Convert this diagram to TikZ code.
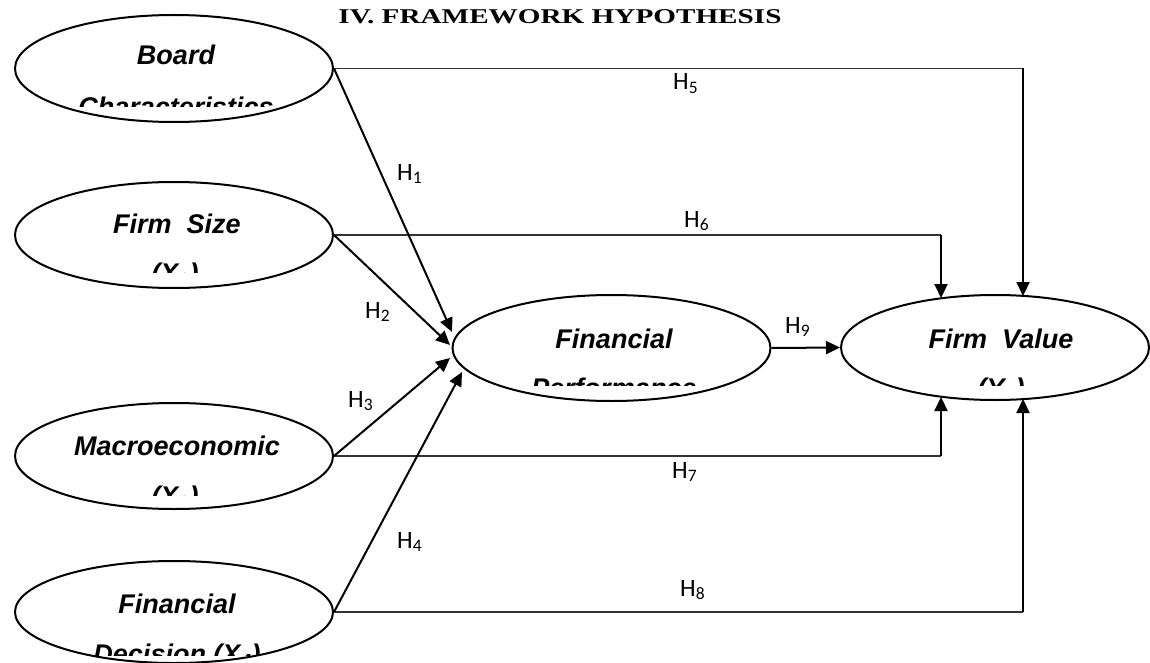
\documentclass[tikz,border=0pt]{standalone}
\usepackage{fontspec}
\setmainfont{Liberation Serif}
\newfontfamily\elfont{Liberation Sans}
\newfontfamily\hfont{Carlito}
\usetikzlibrary{arrows.meta,shapes.geometric}
\begin{document}
\begin{tikzpicture}[x=1pt,y=-1pt,
  ell/.style={draw, ellipse, line width=2pt, inner sep=0pt},
  etxt/.style={font=\elfont\bfseries\itshape\fontsize{27}{27}\selectfont, anchor=base, inner sep=0pt},
  hlab/.style={font=\hfont\fontsize{25}{25}\selectfont, anchor=base west, inner sep=0pt},
  hline/.style={line width=1.4pt, draw=black!80},
  vline/.style={line width=2.2pt, -{Triangle[length=14pt,width=13pt]}},
  diag/.style={line width=2pt, -{Triangle[length=14pt,width=13pt]}}]
\useasboundingbox (0,0) rectangle (1150,663);

% title
\node[font=\bfseries\fontsize{21}{21}\selectfont, inner sep=0pt] (title) at (560,17)
  {\scalebox{1.39}[1]{IV. FRAMEWORK HYPOTHESIS}};

% ellipses
\node[ell, minimum width=318pt, minimum height=107pt] (bc) at (174,68.5) {};
\node[ell, minimum width=318pt, minimum height=106pt] (fs) at (174,235) {};
\node[ell, minimum width=318pt, minimum height=106pt] (me) at (174,456) {};
\node[ell, minimum width=318pt, minimum height=102pt] (fd) at (174,612) {};
\node[ell, minimum width=318pt, minimum height=106pt] (fp) at (611.5,348) {};
\node[ell, minimum width=308pt, minimum height=105pt] (fv) at (995,347.5) {};

% ellipse texts
\node[etxt] (bct1) at (176,65) {Board};
\begin{scope}\clip (20,80) rectangle (330,107);
\node[etxt] (bct2) at (176,117) {Characteristics};
\end{scope}
\node[etxt] (fst1) at (177,233) {Firm\ \ Size};
\begin{scope}\clip (20,245) rectangle (330,272);
\node[etxt] (fst2) at (175,282) {(X\textsubscript{2})};
\end{scope}
\node[etxt] (met1) at (177,455) {Macroeconomic};
\begin{scope}\clip (20,466) rectangle (330,495);
\node[etxt] (met2) at (175,505) {(X\textsubscript{3})};
\end{scope}
\node[etxt] (fdt1) at (177,613) {Financial};
\begin{scope}\clip (20,625) rectangle (330,655);
\node[etxt] (fdt2) at (177,663) {Decision (X\textsubscript{4})};
\end{scope}
\node[etxt] (fpt1) at (614,348) {Financial};
\begin{scope}\clip (460,360) rectangle (765,385);
\node[etxt] (fpt2) at (614,397) {Performance};
\end{scope}
\node[etxt] (fvt1) at (1001,348) {Firm\ \ Value};
\begin{scope}\clip (850,360) rectangle (1140,385);
\node[etxt] (fvt2) at (1001,397) {(Y\textsubscript{1})};
\end{scope}

% corner coordinates
\coordinate (c5) at (1023,68.5);
\coordinate (t5) at (1023,296);
\coordinate (c6) at (941,235);
\coordinate (t6) at (941,298);
\coordinate (c7) at (941,456);
\coordinate (t7) at (941,397);
\coordinate (c8) at (1023,612);
\coordinate (t8) at (1023,399);
\coordinate (p1) at (452,332);
\coordinate (p2) at (450,345);
\coordinate (p3) at (450,358);
\coordinate (p4) at (462,372);

% connectors to firm value
\draw[hline] (bc.east) -- (c5);
\draw[vline] (c5) -- (t5);
\draw[hline] (fs.east) -- (c6);
\draw[vline] (c6) -- (t6);
\draw[hline] (me.east) -- (c7);
\draw[vline] (c7) -- (t7);
\draw[hline] (fd.east) -- (c8);
\draw[vline] (c8) -- (t8);
\draw[diag] (fp.east) -- (fv.west);

% connectors to financial performance
\draw[diag] (bc.east) -- (p1);
\draw[diag] (fs.east) -- (p2);
\draw[diag] (me.east) -- (p3);
\draw[diag] (fd.east) -- (p4);

% labels
\node[hlab] (h1) at (397,180) {H\textsubscript{1}};
\node[hlab] (h2) at (365,318) {H\textsubscript{2}};
\node[hlab] (h3) at (348,407) {H\textsubscript{3}};
\node[hlab] (h4) at (397,548) {H\textsubscript{4}};
\node[hlab] (h5) at (673,90) {H\textsubscript{5}};
\node[hlab] (h6) at (684,227) {H\textsubscript{6}};
\node[hlab] (h7) at (672,478) {H\textsubscript{7}};
\node[hlab] (h8) at (680,596) {H\textsubscript{8}};
\node[hlab] (h9) at (785,333) {H\textsubscript{9}};
\end{tikzpicture}
\end{document}
